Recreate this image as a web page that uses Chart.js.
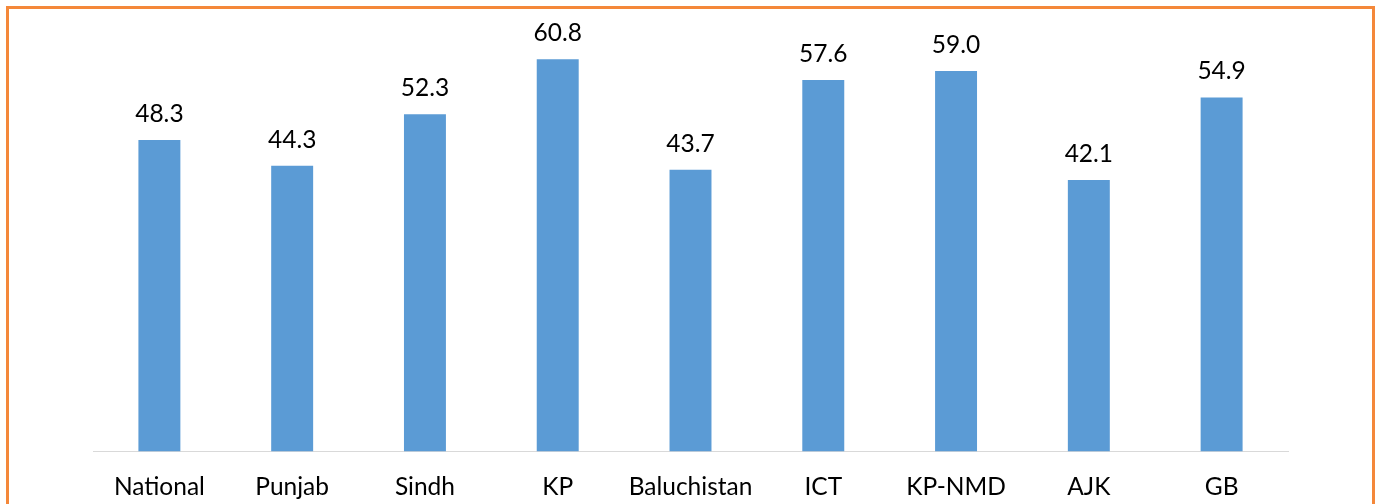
<!DOCTYPE html>
<html>
<head>
<meta charset="utf-8">
<script src="https://cdn.jsdelivr.net/npm/chart.js@4"></script>
<style>
  html, body { margin: 0; padding: 0; background: #fff; overflow: hidden; }
  #frame {
    position: absolute; left: 6px; top: 6px;
    width: 1363px; height: 530px;
    border: 3px solid #f4883a;
  }
  #wrap { position: absolute; left: 0; top: 0; width: 1377px; height: 523px; }
</style>
</head>
<body>
<div id="frame"></div>
<div id="wrap"><canvas id="grafico"></canvas></div>
<script>
const regioes = ['National', 'Punjab', 'Sindh', 'KP', 'Baluchistan', 'ICT', 'KP-NMD', 'AJK', 'GB']
const valores = [48.3, 44.3, 52.3, 60.8, 43.7, 57.6, 59.0, 42.1, 54.9]

// labels above the bars
const rotulos = {
    id: 'rotulos',
    afterDatasetsDraw(chart) {
        const ctx = chart.ctx
        const meta = chart.getDatasetMeta(0)
        ctx.save()
        ctx.font = '24.5px Lato'
        ctx.fillStyle = '#000'
        ctx.textAlign = 'center'
        ctx.textBaseline = 'alphabetic'
        meta.data.forEach((barra, i) => {
            ctx.fillText(valores[i].toFixed(1), barra.x, barra.y - 18)
        })
        ctx.restore()
    }
}

new Chart(document.getElementById('grafico'), {
    type: 'bar',
    data: {
        labels: regioes,
        datasets: [{
            data: valores,
            backgroundColor: '#5b9bd5',
            barPercentage: 0.316,
            categoryPercentage: 1
        }]
    },
    options: {
        responsive: true,
        maintainAspectRatio: false,
        animation: false,
        layout: { padding: { left: 93, right: 89, top: 0, bottom: 0 } },
        plugins: { legend: { display: false }, tooltip: { enabled: false } },
        scales: {
            x: {
                grid: { display: false, drawTicks: false },
                border: { display: true, color: '#d9d9d9', width: 1 },
                ticks: { color: '#000', font: { family: 'Lato', size: 24.5 }, padding: 21, maxRotation: 0 }
            },
            y: {
                display: false,
                min: 0,
                max: 70
            }
        }
    },
    plugins: [rotulos]
})
</script>
</body>
</html>
